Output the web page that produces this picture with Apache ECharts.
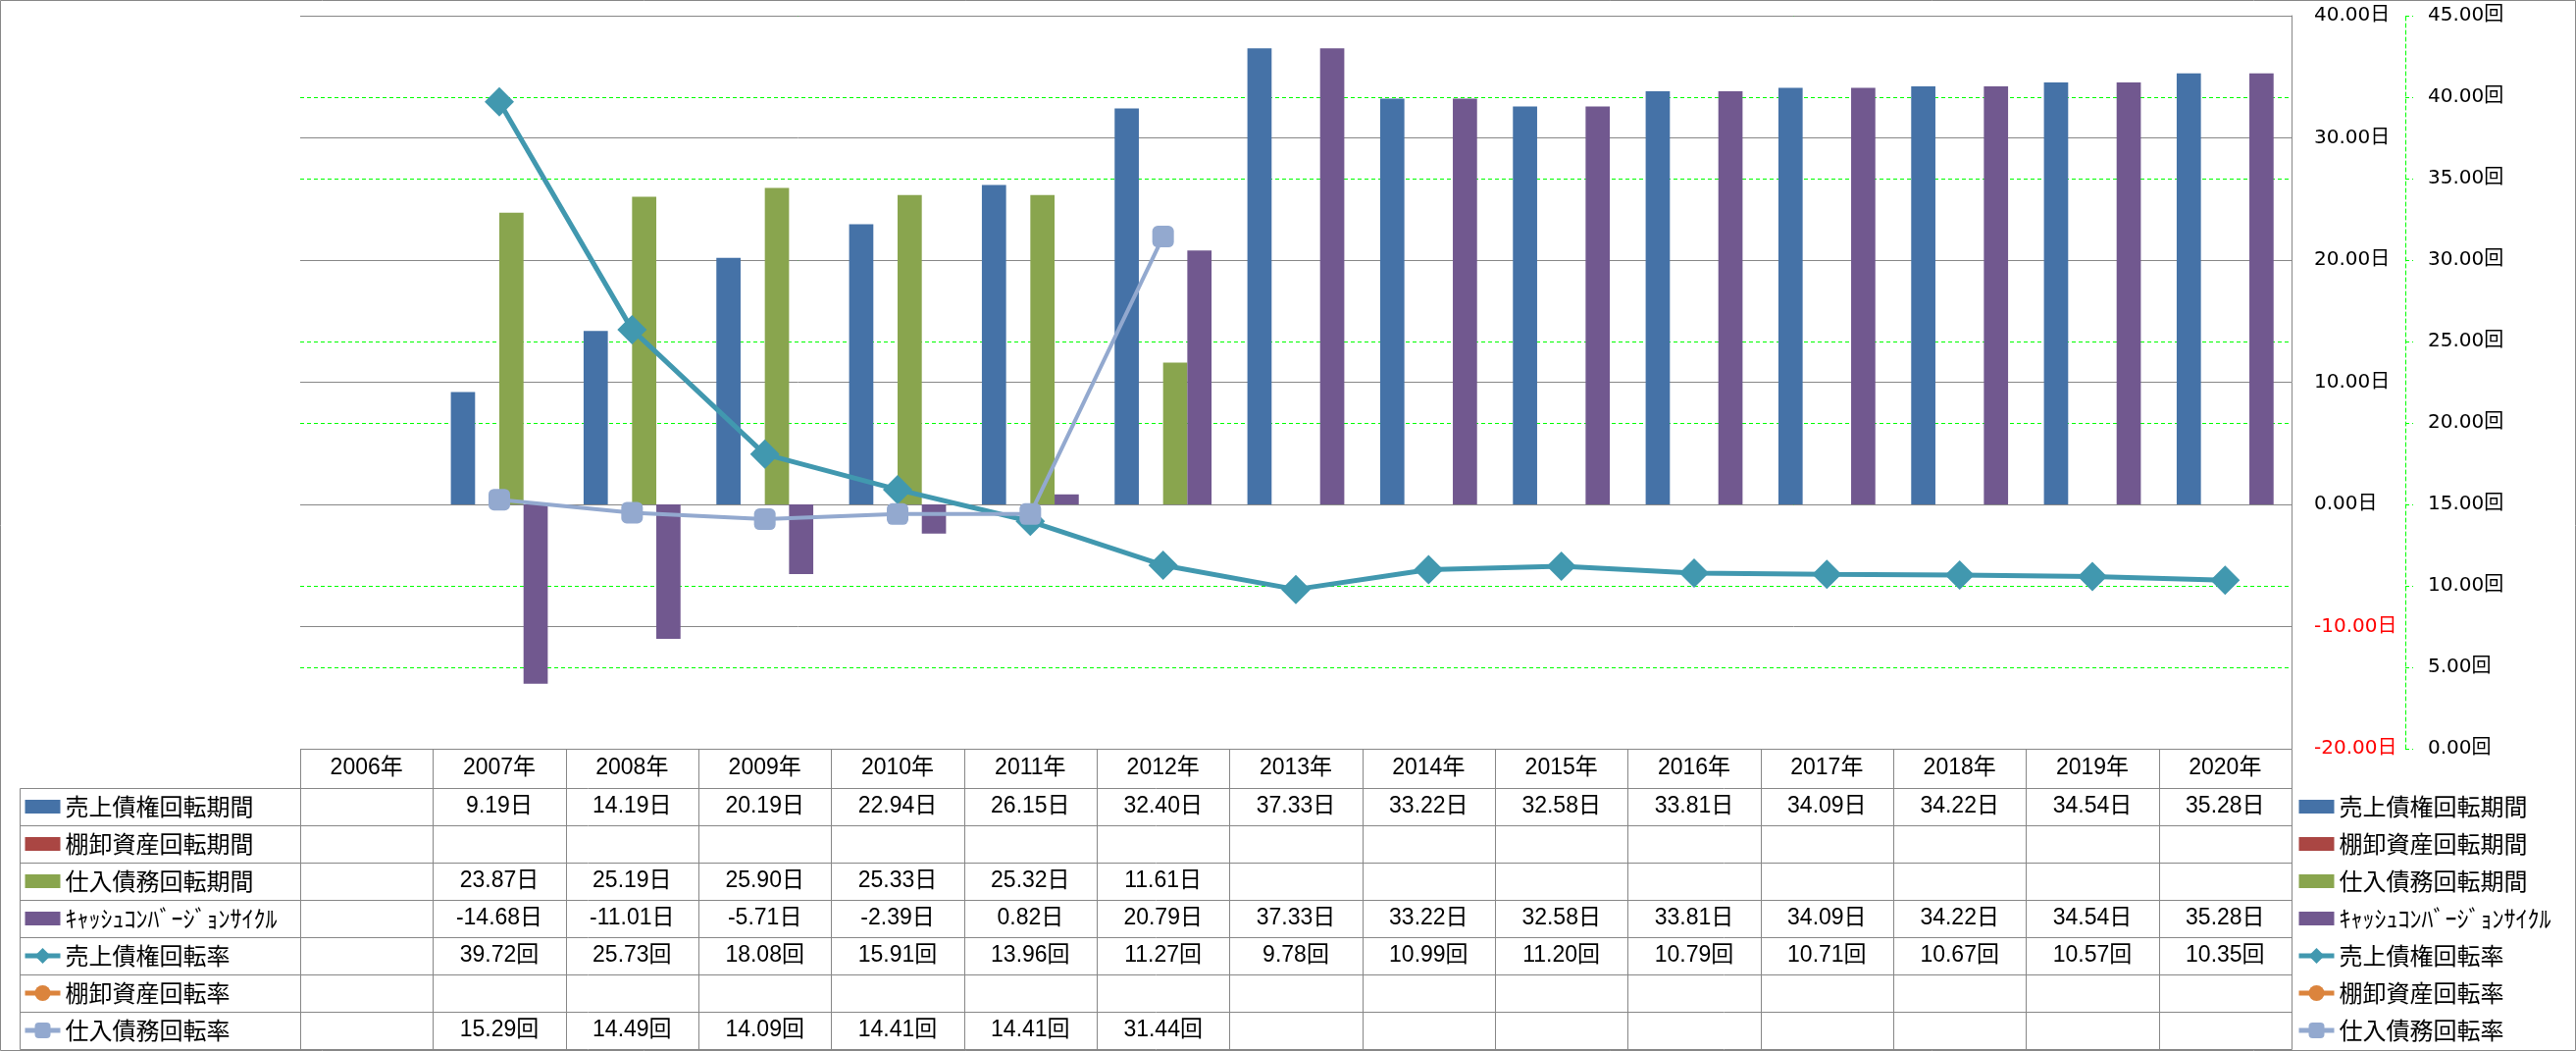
<!DOCTYPE html>
<html><head><meta charset="utf-8">
<script src="https://cdn.jsdelivr.net/npm/echarts@6/dist/echarts.min.js"></script>
<style>html,body{margin:0;padding:0;background:#fff}#c{width:2626px;height:1071px}</style>
</head><body><div id="c"></div>
<script>
const years = ['2006年','2007年','2008年','2009年','2010年','2011年','2012年','2013年','2014年','2015年','2016年','2017年','2018年','2019年','2020年'];
const arDays  = [null, 9.19, 14.19, 20.19, 22.94, 26.15, 32.40, 37.33, 33.22, 32.58, 33.81, 34.09, 34.22, 34.54, 35.28];
const invDays = [null, null, null, null, null, null, null, null, null, null, null, null, null, null, null];
const apDays  = [null, 23.87, 25.19, 25.90, 25.33, 25.32, 11.61, null, null, null, null, null, null, null, null];
const cccDays = [null, -14.68, -11.01, -5.71, -2.39, 0.82, 20.79, 37.33, 33.22, 32.58, 33.81, 34.09, 34.22, 34.54, 35.28];
const arTurn  = [null, 39.72, 25.73, 18.08, 15.91, 13.96, 11.27, 9.78, 10.99, 11.20, 10.79, 10.71, 10.67, 10.57, 10.35];
const invTurn = [null, null, null, null, null, null, null, null, null, null, null, null, null, null, null];
const apTurn  = [null, 15.29, 14.49, 14.09, 14.41, 14.41, 31.44, null, null, null, null, null, null, null, null];

const names = ['売上債権回転期間','棚卸資産回転期間','仕入債務回転期間','ｷｬｯｼｭｺﾝﾊﾞｰｼﾞｮﾝｻｲｸﾙ','売上債権回転率','棚卸資産回転率','仕入債務回転率'];
const colors = ['#4572A7','#AA4643','#89A54E','#71588F','#4198AF','#DB843D','#93A9CF'];
const units = ['日','日','日','日','回','回','回'];
const rows = [arDays, invDays, apDays, cccDays, arTurn, invTurn, apTurn];

const GRID = {left: 306, right: 290, top: 16, bottom: 308};
const HEADER_TOP = 763, HEADER_H = 40, ROW_H = 38, LEFT_X = 20;
const GRAY = '#878787';
const AXIS_FONT = '"DejaVu Sans","Noto Sans CJK JP"';
const TABLE_FONT = '"Liberation Sans","Noto Sans CJK JP"';
const CJK_FONT = '"Noto Sans CJK JP"';

const chart = echarts.init(document.getElementById('c'), null, {renderer: 'canvas'});

function barSeries(i, data) {
  return {name: names[i], type: 'bar', yAxisIndex: 1, data: data, barGap: '0%', barCategoryGap: '27%',
    itemStyle: {color: colors[i]}, z: 2};
}
function lineSeries(i, data, symbol, size, width) {
  return {name: names[i], type: 'line', yAxisIndex: 0, data: data, symbol: symbol, symbolSize: size,
    lineStyle: {color: colors[i], width: width}, itemStyle: {color: colors[i]}, connectNulls: false, z: 5};
}

const legendData = names.map((n, i) => i < 4 ? {name: n, icon: 'path://M0,0H34V13H0Z'} : {name: n});
const legendCommon = {
  orient: 'vertical', padding: 0, itemGap: ROW_H - 24, itemWidth: 36, itemHeight: 20,
  symbolKeepAspect: true,
  lineStyle: {width: 5},
  textStyle: {fontSize: 24, lineHeight: 24, fontFamily: CJK_FONT, color: '#000'},
  data: legendData, selectedMode: false
};

chart.setOption({
  animation: false,
  backgroundColor: '#fff',
  grid: GRID,
  legend: [
    Object.assign({left: LEFT_X + 3, top: HEADER_TOP + HEADER_H + 7}, legendCommon),
    Object.assign({left: 2341, top: HEADER_TOP + HEADER_H + 7}, legendCommon)
  ],
  xAxis: {
    type: 'category', data: years, boundaryGap: true,
    axisLine: {show: false}, axisTick: {show: false}, splitLine: {show: false},
    axisLabel: {interval: 0, margin: HEADER_H / 2, verticalAlign: 'middle', fontSize: 23, fontFamily: TABLE_FONT, color: '#000'}
  },
  yAxis: [
    {
      type: 'value', position: 'right', offset: 116, min: 0, max: 45, interval: 5,
      axisLine: {show: true, lineStyle: {color: '#00FF00', type: [4, 3], width: 1}},
      axisTick: {show: true, length: 8, lineStyle: {color: '#00FF00', type: [4, 3], width: 1}},
      splitLine: {show: true, lineStyle: {color: '#00FF00', type: [4, 3], width: 1}},
      axisLabel: {margin: 23, fontSize: 20, fontFamily: AXIS_FONT, color: '#000', formatter: v => v.toFixed(2) + '回'}
    },
    {
      type: 'value', position: 'right', offset: 0, min: -20, max: 40, interval: 10,
      axisLine: {show: true, lineStyle: {color: GRAY, width: 1}},
      axisTick: {show: false},
      splitLine: {show: true, lineStyle: {color: GRAY, width: 1}},
      axisLabel: {margin: 23, fontSize: 20, fontFamily: AXIS_FONT,
        color: v => (Number(v) < 0 ? '#FF0000' : '#000'), formatter: v => v.toFixed(2) + '日'}
    }
  ],
  series: [
    barSeries(0, arDays), barSeries(1, invDays), barSeries(2, apDays), barSeries(3, cccDays),
    lineSeries(4, arTurn, 'diamond', 30, 5),
    lineSeries(5, invTurn, 'circle', 22, 5),
    lineSeries(6, apTurn, 'roundRect', 22, 4)
  ]
});

// Data table built from the arrays, positioned via the category axis scale
const c0 = chart.convertToPixel({xAxisIndex: 0}, 0);
const c1 = chart.convertToPixel({xAxisIndex: 0}, 1);
const colW = c1 - c0;
const tableLeft = c0 - colW / 2;
const tableRight = tableLeft + colW * years.length;
const rowsTop = HEADER_TOP + HEADER_H;
const tableBottom = rowsTop + ROW_H * rows.length;
const g = [];
const ln = (x1, y1, x2, y2) => g.push({type: 'line', silent: true, z: 10,
  shape: {x1: x1, y1: y1, x2: x2, y2: y2}, style: {stroke: GRAY, lineWidth: 1}});
const px = v => Math.round(v) + 0.5;
ln(px(tableLeft), px(HEADER_TOP), px(tableRight), px(HEADER_TOP));
for (let r = 0; r <= rows.length; r++) {
  const y = px(rowsTop + r * ROW_H);
  ln(px(LEFT_X), y, px(tableRight), y);
}
ln(px(LEFT_X), px(rowsTop), px(LEFT_X), px(tableBottom));
for (let i = 0; i <= years.length; i++) {
  const x = px(tableLeft + i * colW);
  ln(x, px(HEADER_TOP), x, px(tableBottom));
}
rows.forEach((arr, r) => {
  arr.forEach((v, i) => {
    if (v === null) return;
    g.push({type: 'text', silent: true, z: 10,
      x: c0 + i * colW, y: rowsTop + r * ROW_H + ROW_H / 2,
      style: {text: v.toFixed(2) + units[r], fill: '#000', font: '23px ' + TABLE_FONT, align: 'center', verticalAlign: 'middle'}});
  });
});
g.push({type: 'rect', silent: true, z: 10, shape: {x: 0.5, y: 0.5, width: 2625, height: 1070},
  style: {fill: 'none', stroke: GRAY, lineWidth: 1}});
chart.setOption({graphic: g});
</script>
</body></html>
